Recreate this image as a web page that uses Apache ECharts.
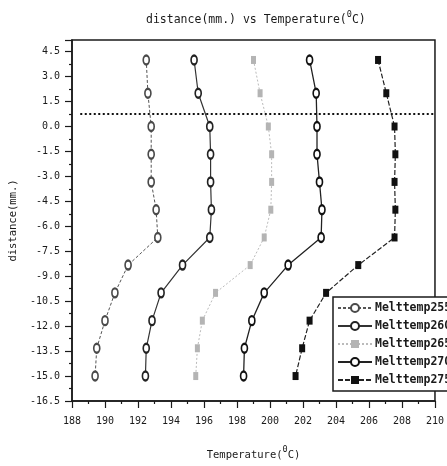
<!DOCTYPE html>
<html><head><meta charset="utf-8">
<script src="https://cdn.jsdelivr.net/npm/echarts@6/dist/echarts.min.js"></script>
<style>html,body{margin:0;padding:0;background:#fff}#c{width:447px;height:466px}</style>
</head><body><div id="c"></div>
<script>
// distance (mm.) of each measuring point
const distance = [4, 2, 0, -1.67, -3.33, -5, -6.67, -8.33, -10, -11.67, -13.33, -15];
// temperatures (°C) for each melt temperature
const melt255 = [192.5, 192.6, 192.8, 192.8, 192.8, 193.1, 193.2, 191.4, 190.6, 190.0, 189.5, 189.4];
const melt260 = [195.4, 195.65, 196.35, 196.4, 196.4, 196.45, 196.35, 194.7, 193.4, 192.85, 192.5, 192.45];
const melt265 = [199.0, 199.4, 199.9, 200.1, 200.1, 200.05, 199.65, 198.8, 196.7, 195.9, 195.6, 195.5];
const melt270 = [202.4, 202.8, 202.85, 202.85, 203.0, 203.15, 203.1, 201.1, 199.65, 198.9, 198.45, 198.4];
const melt275 = [206.55, 207.05, 207.55, 207.6, 207.55, 207.6, 207.55, 205.35, 203.4, 202.4, 201.95, 201.55];
const seriesNames = ['Melttemp255', 'Melttemp260', 'Melttemp265', 'Melttemp270', 'Melttemp275'];
// horizontal dotted reference line
const refLineY = 0.75;
const refLineX = [188.5, 210];

const FONT = 'DejaVu Sans Mono';
const INK = '#1a1a1a';
function pairs(xs){ return xs.map((x,i)=>[x, distance[i]]); }

const chart = echarts.init(document.getElementById('c'), null, {renderer:'canvas'});
const txt = {fontFamily: FONT, fontSize: 10, color: INK};
const supRich = {
  n: {fontFamily: FONT, fontSize: 11.5, color: INK, verticalAlign: 'bottom'},
  s: {fontFamily: FONT, fontSize: 8.5, color: INK, verticalAlign: 'bottom', padding: [0, 0, 7, 0]}
};
const supRichX = {
  n: {fontFamily: FONT, fontSize: 10.5, color: INK, verticalAlign: 'bottom'},
  s: {fontFamily: FONT, fontSize: 8.5, color: INK, verticalAlign: 'bottom', padding: [0, 0, 7, 0]}
};

const option = {
  animation: false,
  backgroundColor: '#fff',
  title: {
    text: '{n|distance(mm.) vs Temperature(}{s|0}{n|C)}',
    left: 141, top: 5,
    textStyle: {fontFamily: FONT, fontSize: 11.5, fontWeight: 'normal', color: INK, rich: supRich}
  },
  grid: {left: 69, right: 12, top: 40, bottom: 63, show: true, borderColor: INK, borderWidth: 1.5, backgroundColor: 'transparent'},
  xAxis: {
    type: 'value', min: 188, max: 210, interval: 2,
    name: '{n|Temperature(}{s|0}{n|C)}', nameLocation: 'middle', nameGap: 44,
    nameTextStyle: {fontFamily: FONT, fontSize: 10.5, color: INK, rich: supRichX},
    axisLine: {onZero: false, lineStyle: {color: INK, width: 1.5}},
    axisTick: {show: true, inside: false, length: 7, lineStyle: {color: INK, width: 1.2}},
    minorTick: {show: true, splitNumber: 2, length: 3, lineStyle: {color: INK, width: 1.2}},
    axisLabel: Object.assign({margin: 15}, txt),
    splitLine: {show: false}
  },
  yAxis: {
    type: 'value', min: -16.5, max: 5.2, interval: 1.5,
    name: 'distance(mm.)', nameLocation: 'middle', nameGap: 52,
    nameTextStyle: {fontFamily: FONT, fontSize: 10.5, color: INK},
    axisLine: {onZero: false, lineStyle: {color: INK, width: 1.5}},
    axisTick: {show: true, inside: false, length: 7, lineStyle: {color: INK, width: 1.2}},
    minorTick: {show: true, splitNumber: 2, length: 3, lineStyle: {color: INK, width: 1.2}},
    axisLabel: Object.assign({margin: 12, showMaxLabel: false,
      formatter: v => (Math.abs(v) < 1e-9 ? 0 : v).toFixed(1)}, txt),
    splitLine: {show: false}
  },
  legend: {
    data: seriesNames,
    orient: 'vertical', left: 333, top: 297,
    itemWidth: 34, itemHeight: 10, itemGap: 6,
    padding: [5, 4, 5, 4],
    backgroundColor: '#fff', borderColor: INK, borderWidth: 1.5, borderRadius: 0,
    textStyle: {fontFamily: FONT, fontSize: 11.5, color: INK, fontWeight: 'bold', padding: [0,0,0,-2]}
  },
  series: [
    {name: seriesNames[0], type: 'line', data: pairs(melt255), symbol: 'emptyCircle', symbolSize: [6, 9],
      itemStyle: {color: '#4a4a4a', borderWidth: 1.3},
      lineStyle: {color: '#555', width: 1, type: [3, 2]}},
    {name: seriesNames[1], type: 'line', data: pairs(melt260), symbol: 'emptyCircle', symbolSize: [6, 9],
      itemStyle: {color: '#222', borderWidth: 1.3},
      lineStyle: {color: '#333', width: 1.2}},
    {name: seriesNames[2], type: 'line', data: pairs(melt265), symbol: 'rect', symbolSize: [5, 8],
      itemStyle: {color: '#b4b4b4'},
      lineStyle: {color: '#bbb', width: 1, type: [2, 2]}},
    {name: seriesNames[3], type: 'line', data: pairs(melt270), symbol: 'emptyCircle', symbolSize: [6, 9],
      itemStyle: {color: '#111', borderWidth: 1.4},
      lineStyle: {color: '#222', width: 1.3}},
    {name: seriesNames[4], type: 'line', data: pairs(melt275), symbol: 'rect', symbolSize: [6, 8],
      itemStyle: {color: '#111'},
      lineStyle: {color: '#222', width: 1.2, type: [5, 2]}},
    {name: 'ref', type: 'line', silent: true, showSymbol: false, symbol: 'none',
      data: refLineX.map(x => [x, refLineY]),
      lineStyle: {color: '#111', width: 2, type: [2, 2.5]}}
  ]
};
chart.setOption(option);
</script></body></html>
